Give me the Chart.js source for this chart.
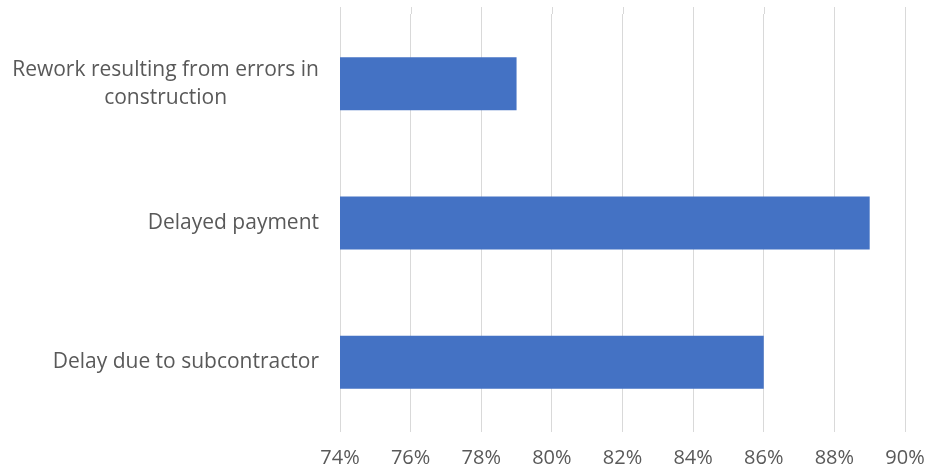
<!DOCTYPE html>
<html>
<head>
<meta charset="utf-8">
<script src="https://cdn.jsdelivr.net/npm/chart.js@4"></script>
<style>
  html, body { margin: 0; padding: 0; background: #fff; overflow: hidden; }
  canvas { display: block; }
</style>
</head>
<body>
<canvas id="chart" width="930" height="472"></canvas>
<script>
// categories (multi-line labels are arrays), values in %
const categories = [
  ["Rework resulting from errors in", "construction"],
  ["Delayed payment"],
  ["Delay due to subcontractor"]
];
const values = [79, 89, 86];
const axisMin = 74, axisMax = 90, axisStep = 2;

const FONT = "'Open Sans', sans-serif";
const TEXT = "#595959";
const GRID = "#d9d9d9";

// category labels: each block right-aligned to the axis, lines centred on the widest one
const catLabels = {
  id: "catLabels",
  afterDraw(chart) {
    const { ctx, chartArea, scales: { y } } = chart;
    const right = chartArea.left - 21;
    const lh = 28;
    ctx.save();
    ctx.font = "21px " + FONT;
    ctx.fillStyle = TEXT;
    ctx.textAlign = "center";
    ctx.textBaseline = "middle";
    categories.forEach(function(lines, i){
      const cy = y.getPixelForValue(i);
      let w = 0;
      lines.forEach(function(l){ w = Math.max(w, ctx.measureText(l).width); });
      const cx = right - w / 2;
      const top = cy - (lines.length - 1) * lh / 2;
      lines.forEach(function(l, k){ ctx.fillText(l, cx, top + k * lh); });
    });
    ctx.restore();
  }
};

// vertical gridlines run a little above the plot area
const gridTop = {
  id: "gridTop",
  beforeDatasetsDraw(chart) {
    const { ctx, chartArea, scales: { x } } = chart;
    ctx.save();
    ctx.strokeStyle = GRID;
    ctx.lineWidth = 1;
    x.ticks.forEach(function(t){
      const px = Math.round(x.getPixelForValue(t.value)) + 0.5;
      ctx.beginPath();
      ctx.moveTo(px, chartArea.top - 7);
      ctx.lineTo(px, chartArea.top);
      ctx.stroke();
    });
    ctx.restore();
  }
};

new Chart(document.getElementById("chart"), {
  type: "bar",
  data: {
    labels: categories.map(function(c){ return c.join(" "); }),
    datasets: [{
      data: values,
      backgroundColor: "#4472C4",
      barPercentage: 0.38,
      categoryPercentage: 1
    }]
  },
  options: {
    indexAxis: "y",
    responsive: false,
    animation: false,
    layout: { padding: { top: 14, right: 25, bottom: 3, left: 0 } },
    plugins: { legend: { display: false }, tooltip: { enabled: false } },
    scales: {
      x: {
        min: axisMin,
        max: axisMax,
        ticks: {
          stepSize: axisStep,
          padding: 14,
          color: TEXT,
          font: { family: FONT, size: 20 },
          callback: function(v){ return v + "%"; }
        },
        grid: { color: GRID, lineWidth: 1, drawTicks: false },
        border: { display: false },
        afterFit: function(s){ s.paddingLeft = 0; s.paddingRight = 0; s.height = 37; }
      },
      y: {
        ticks: { display: false },
        grid: { display: false },
        border: { display: false },
        afterFit: function(s){ s.width = 340; }
      }
    }
  },
  plugins: [gridTop, catLabels]
});
</script>
</body>
</html>
